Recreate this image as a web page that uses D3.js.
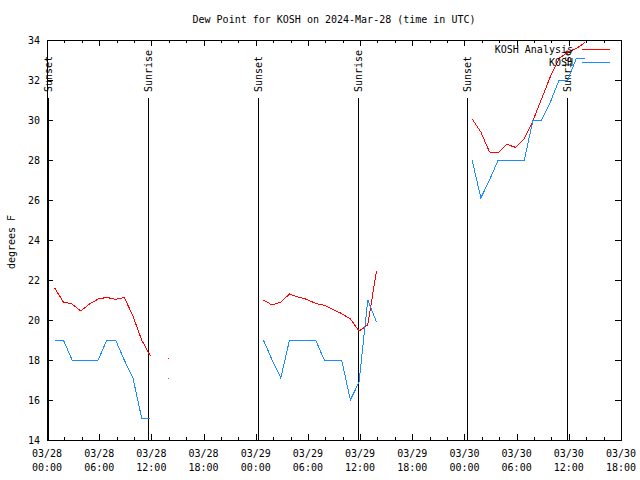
<!DOCTYPE html>
<html><head><meta charset="utf-8">
<script src="https://cdn.jsdelivr.net/npm/d3@7"></script>
<style>
body{margin:0;background:#fff}
svg{display:block}
text{font-family:"DejaVu Sans Mono","Liberation Mono",monospace;font-size:10px;fill:#000}
</style>
</head><body>
<svg id="chart" width="640" height="480"></svg>
<script>
// ---------------- data ----------------
const chartTitle = "Dew Point for KOSH on 2024-Mar-28 (time in UTC)";
const yAxisTitle = "degrees F";
const seriesNames = ["KOSH Analysis", "KOSH"];
const seriesColors = ["#ff0000", "#1a8cff"];

// hourly observation segments (start time of each segment)
const segmentStarts = ["2024-03-28T00:53Z", "2024-03-28T13:53Z", "2024-03-29T00:53Z", "2024-03-30T00:53Z"];

const analysisValues = [
  [21.6, 20.9, 20.8, 20.45, 20.8, 21.05, 21.13, 21.03, 21.13, 20.2, 19.0, 18.2],
  [18.1],
  [21.0, 20.75, 20.9, 21.3, 21.15, 21.03, 20.83, 20.73, 20.53, 20.32, 20.05, 19.45, 19.75, 22.45],
  [30.05, 29.4, 28.4, 28.37, 28.78, 28.63, 29.08, 29.97, 31.08, 32.17, 33.08, 33.4, 33.58, 33.88]
];
const koshValues = [
  [19.0, 19.0, 18.0, 18.0, 18.0, 18.0, 19.0, 19.0, 18.0, 17.1, 15.1, 15.1],
  [17.1],
  [19.0, 18.0, 17.1, 19.0, 19.0, 19.0, 19.0, 18.0, 18.0, 18.0, 16.0, 16.9, 21.0, 19.9],
  [28.0, 26.1, 27.0, 28.0, 28.0, 28.0, 28.0, 30.0, 30.0, 30.9, 32.0, 32.0, 33.1, 33.1]
];

const sunLabels = ["Sunset", "Sunrise", "Sunset", "Sunrise", "Sunset", "Sunrise"];
const sunTimes = ["2024-03-28T00:07Z", "2024-03-28T11:40Z", "2024-03-29T00:13Z", "2024-03-29T11:44Z", "2024-03-30T00:15Z", "2024-03-30T11:45Z"];
const sunLineTopValue = 31.1;

const xDomain = ["2024-03-28T00:00Z", "2024-03-30T18:00Z"];
const yDomain = [14, 34];
const yTickValues = [14, 16, 18, 20, 22, 24, 26, 28, 30, 32, 34];
const xMajorStepHours = 6;
const xMinorStepHours = 2;

// ---------------- drawing ----------------
const L = 47, R = 621, T = 40, B = 440;
const svg = d3.select("#chart");
const x = d3.scaleUtc().domain(xDomain.map(d => new Date(d))).range([L, R]);
const y = d3.scaleLinear().domain(yDomain).range([B, T]);

// title
svg.append("text").attr("x", (L + R) / 2).attr("y", 23).attr("text-anchor", "middle").text(chartTitle);
// y title
svg.append("text").attr("transform", `translate(11,${(T + B) / 2 + 2}) rotate(-90)`)
  .attr("text-anchor", "middle").attr("dy", "0.35em").text(yAxisTitle);

const g = svg.append("g");
const ax = g.append("g").attr("shape-rendering", "crispEdges").attr("stroke", "#000").attr("stroke-width", 1);

// frame
ax.append("rect").attr("x", L + 0.5).attr("y", T + 0.5).attr("width", R - L).attr("height", B - T).attr("fill", "none");

// y ticks
yTickValues.forEach(v => {
  const yy = Math.round(y(v)) + 0.5;
  ax.append("line").attr("x1", L).attr("x2", L + 6).attr("y1", yy).attr("y2", yy);
  ax.append("line").attr("x1", R).attr("x2", R - 6).attr("y1", yy).attr("y2", yy);
});
svg.selectAll(".ylab").data(yTickValues).join("text").attr("class", "ylab")
  .attr("x", 40).attr("y", d => y(d)).attr("dy", "0.35em").attr("text-anchor", "end").text(d => d);

// x ticks
const minorTicks = d3.utcHour.every(xMinorStepHours).range(x.domain()[0], d3.utcHour.offset(x.domain()[1], 1));
minorTicks.forEach(t => {
  const xx = Math.round(x(t)) + 0.5;
  const major = (t.getUTCHours() % xMajorStepHours) === 0;
  const len = major ? 6 : 3;
  ax.append("line").attr("x1", xx).attr("x2", xx).attr("y1", B).attr("y2", B - len);
  ax.append("line").attr("x1", xx).attr("x2", xx).attr("y1", T).attr("y2", T + len);
});
const majorTicks = d3.utcHour.every(xMajorStepHours).range(x.domain()[0], d3.utcHour.offset(x.domain()[1], 1));
const fmtD = d3.utcFormat("%m/%d"), fmtH = d3.utcFormat("%H:%M");
majorTicks.forEach(t => {
  svg.append("text").attr("x", x(t)).attr("y", 457).attr("text-anchor", "middle").text(fmtD(t));
  svg.append("text").attr("x", x(t)).attr("y", 471).attr("text-anchor", "middle").text(fmtH(t));
});

// sunrise / sunset
sunTimes.forEach((s, i) => {
  const xx = Math.round(x(new Date(s))) + 0.5;
  ax.append("line").attr("x1", xx).attr("x2", xx).attr("y1", y(sunLineTopValue)).attr("y2", B);
  svg.append("text").attr("transform", `translate(${xx},92) rotate(-90)`)
    .attr("dy", "0.35em").attr("text-anchor", "start").text(sunLabels[i]);
});

// series
function buildPoints(values) {
  return values.map((seg, si) => seg.map((v, j) => ({ t: d3.utcHour.offset(new Date(segmentStarts[si]), j), v })));
}
const line = d3.line().x(d => x(d.t)).y(d => y(d.v));
[analysisValues, koshValues].forEach((vals, k) => {
  const segs = buildPoints(vals);
  const sg = svg.append("g");
  segs.forEach(pts => {
    if (pts.length > 1) {
      sg.append("path").attr("d", line(pts)).attr("fill", "none")
        .attr("stroke", seriesColors[k]).attr("stroke-width", 1).attr("shape-rendering", "crispEdges");
    } else {
      pts.forEach(p => sg.append("rect").attr("x", Math.round(x(p.t))).attr("y", Math.round(y(p.v)))
        .attr("width", 1).attr("height", 1).attr("fill", seriesColors[k]));
    }
  });
});

// legend
seriesNames.forEach((n, i) => {
  const ly = 49 + i * 13;
  svg.append("text").attr("x", 573).attr("y", ly).attr("dy", "0.35em").attr("text-anchor", "end").text(n);
  svg.append("line").attr("x1", 582).attr("x2", 610).attr("y1", ly + 0.5).attr("y2", ly + 0.5)
    .attr("stroke", seriesColors[i]).attr("stroke-width", 1).attr("shape-rendering", "crispEdges");
});
</script>
</body></html>
